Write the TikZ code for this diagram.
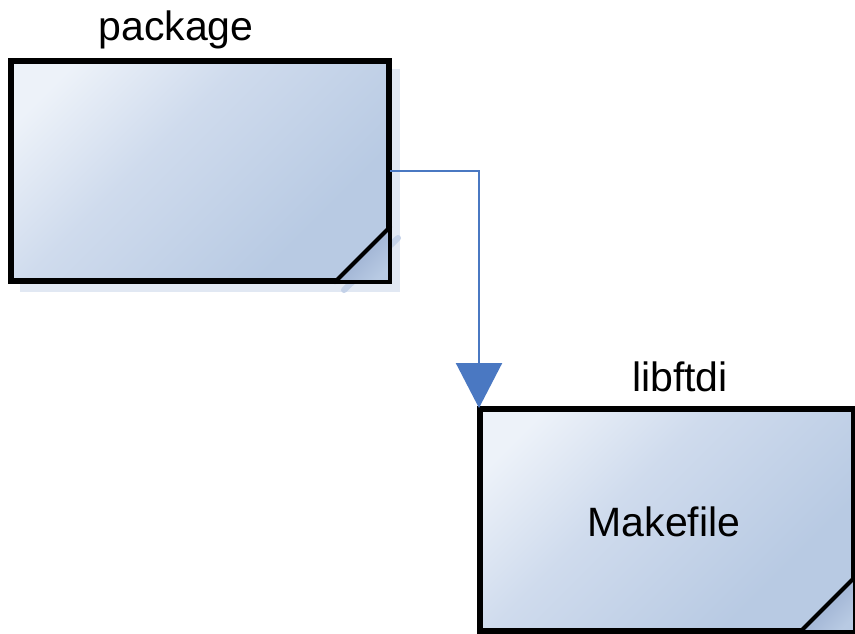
\documentclass[tikz,border=0pt]{standalone}
\usepackage{fontspec}
\setmainfont{Liberation Sans}
\usetikzlibrary{arrows.meta,calc}
\definecolor{boxlight}{HTML}{EDF2F9}
\definecolor{boxmid}{HTML}{CFDBED}
\definecolor{boxdark}{HTML}{B8CAE3}
\definecolor{shadowblue}{HTML}{E1E8F3}
\definecolor{folddark}{HTML}{8FA4C9}
\definecolor{foldlight}{HTML}{C3D1E8}
\definecolor{linkblue}{HTML}{4A78C2}
% light only near the upper left corner, settling into a flat blue
\pgfdeclareverticalshading{fileshade}{100bp}{%
  color(0bp)=(boxdark); color(30bp)=(boxdark); color(58bp)=(boxmid); color(78bp)=(boxlight); color(100bp)=(boxlight)}
\tikzset{
  filebox/.style={rectangle, draw=black, line width=4pt, line join=miter,
    shading=fileshade, shading angle=45,
    inner sep=0pt, font=\fontsize{41}{48}\selectfont},
  boxlabel/.style={anchor=base, inner sep=0pt, font=\fontsize{41}{48}\selectfont},
  link/.style={draw=linkblue, line width=2.3pt,
    -{Triangle[width=46pt,length=45pt]}},
}
\begin{document}
\begin{tikzpicture}[x=1pt,y=-1pt]
\useasboundingbox (0,0) rectangle (855,633);
% soft drop shadow behind the package box
\fill[shadowblue] (20,69) rectangle (400,292);
\draw[foldlight, line width=6pt, line cap=round] (398,238) -- (344,290);
% the two file boxes
\node[filebox, minimum width=376pt, minimum height=218pt] (pkg) at (200,171) {};
\node[filebox, minimum width=372pt, minimum height=220pt] (mk) at (667,520) {};
\node[font=\fontsize{41}{48}\selectfont, anchor=base, inner sep=0pt] (mktext) at (664,536) {Makefile};
% folded corners, then the outline again on top
\foreach \b in {pkg,mk}{
  \shade[top color=folddark, bottom color=boxdark, shading angle=45]
    (\b.south east) -- ($(\b.south east)+(0,-55)$) -- ($(\b.south east)+(-55,0)$) -- cycle;
  \draw[black, line width=4pt, line cap=round]
    ($(\b.south east)+(0,-55)$) -- ($(\b.south east)+(-55,0)$);
  \draw[black, line width=4pt, line join=miter]
    (\b.south west) rectangle (\b.north east);
}
% titles
\node[boxlabel] (pkglabel) at (176,40) {package};
\node[boxlabel] (mklabel) at (680,391) {libftdi};
% dependency arrow
\draw[link] (pkg.east) -| (mk.north west);
\end{tikzpicture}
\end{document}
